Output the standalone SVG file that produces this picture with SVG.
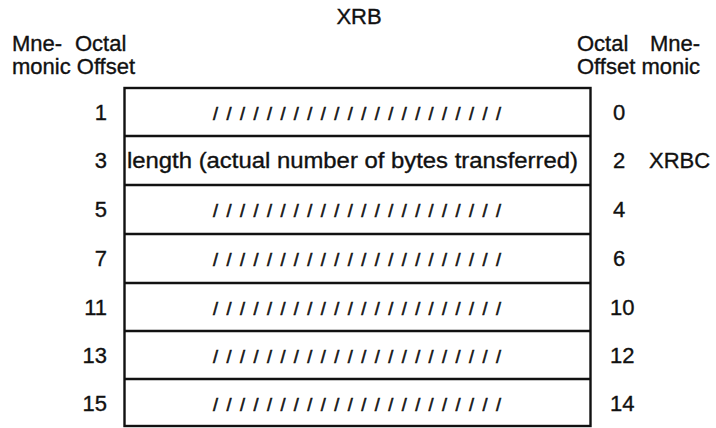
<svg xmlns="http://www.w3.org/2000/svg" width="716" height="428" viewBox="0 0 716 428">
  <style>
    text { font-family: "Liberation Sans", Arial, sans-serif; font-size: 22px; fill: #111; stroke: #111; stroke-width: 0.35; }
    .l { text-anchor: end; }
    .slash { font-size: 18px; stroke-width: 0.6; }
    .box { fill: #fff; stroke: #111; stroke-width: 2.4; }
    .sep { stroke: #111; stroke-width: 2.4; }
  </style>
  <rect width="716" height="428" fill="#fff"/>

  <g id="title"><text x="359" y="24" text-anchor="middle">XRB</text></g>

  <g id="header-left">
    <text x="12" y="51">Mne-</text>
    <text x="75" y="51">Octal</text>
    <text x="12" y="74">monic Offset</text>
  </g>
  <g id="header-right">
    <text x="577" y="51">Octal</text>
    <text x="650" y="51">Mne-</text>
    <text x="577" y="74">Offset monic</text>
  </g>

  <g id="record">
    <rect class="box" x="124.5" y="88" width="466" height="338"/>
    <line class="sep" x1="124.5" y1="136" x2="590.5" y2="136"/>
    <line class="sep" x1="124.5" y1="185" x2="590.5" y2="185"/>
    <line class="sep" x1="124.5" y1="234" x2="590.5" y2="234"/>
    <line class="sep" x1="124.5" y1="283" x2="590.5" y2="283"/>
    <line class="sep" x1="124.5" y1="331" x2="590.5" y2="331"/>
    <line class="sep" x1="124.5" y1="379" x2="590.5" y2="379"/>
  </g>

  <g id="row0">
    <text class="l" x="107" y="120">1</text>
    <text class="slash" x="213" y="120" textLength="288" lengthAdjust="spacing">//////////////////////</text>
    <text x="613" y="120">0</text>
  </g>
  <g id="row2">
    <text class="l" x="107" y="168">3</text>
    <text x="127" y="168" textLength="451" lengthAdjust="spacingAndGlyphs">length (actual number of bytes transferred)</text>
    <text x="613" y="168">2</text>
    <text x="649" y="168">XRBC</text>
  </g>
  <g id="row4">
    <text class="l" x="107" y="217">5</text>
    <text class="slash" x="213" y="217" textLength="288" lengthAdjust="spacing">//////////////////////</text>
    <text x="613" y="217">4</text>
  </g>
  <g id="row6">
    <text class="l" x="107" y="266">7</text>
    <text class="slash" x="213" y="266" textLength="288" lengthAdjust="spacing">//////////////////////</text>
    <text x="613" y="266">6</text>
  </g>
  <g id="row10">
    <text class="l" x="107" y="315">11</text>
    <text class="slash" x="213" y="315" textLength="288" lengthAdjust="spacing">//////////////////////</text>
    <text x="610" y="315">10</text>
  </g>
  <g id="row12">
    <text class="l" x="107" y="363">13</text>
    <text class="slash" x="213" y="363" textLength="288" lengthAdjust="spacing">//////////////////////</text>
    <text x="610" y="363">12</text>
  </g>
  <g id="row14">
    <text class="l" x="107" y="411">15</text>
    <text class="slash" x="213" y="411" textLength="288" lengthAdjust="spacing">//////////////////////</text>
    <text x="610" y="411">14</text>
  </g>
</svg>
